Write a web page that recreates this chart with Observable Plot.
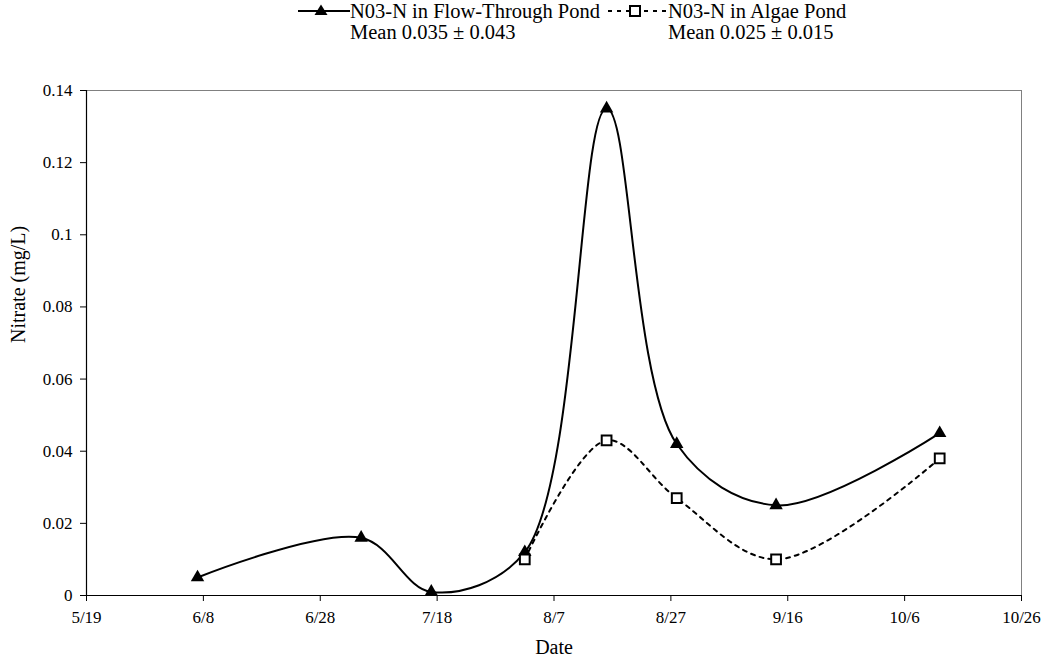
<!DOCTYPE html>
<html>
<head>
<meta charset="utf-8">
<script src="https://cdn.jsdelivr.net/npm/d3@7"></script>
<script src="https://cdn.jsdelivr.net/npm/@observablehq/plot@0.6"></script>
<style>
  html, body { margin: 0; padding: 0; background: #fff; }
  #wrap { position: relative; width: 1047px; height: 671px; font-family: "Liberation Serif", "Times New Roman", serif; color: #000; }
  #legend { position: relative; width: 1047px; height: 50px; font-size: 20.5px; }
  #legend .t { position: absolute; white-space: nowrap; line-height: 21px; }
  #legend svg { position: absolute; }
  #chart { display: block; }
</style>
</head>
<body>
<div id="wrap">
  <div id="legend"></div>
  <div id="chart"></div>
</div>
<script>
// ---- data ----
const flowDates   = ["2005-06-07", "2005-07-05", "2005-07-17", "2005-08-02", "2005-08-16", "2005-08-28", "2005-09-14", "2005-10-12"];
const flowValues  = [0.005, 0.016, 0.001, 0.012, 0.135, 0.042, 0.025, 0.045];
const algaeDates  = ["2005-08-02", "2005-08-16", "2005-08-28", "2005-09-14", "2005-10-12"];
const algaeValues = [0.010, 0.043, 0.027, 0.010, 0.038];
const xTickDates  = ["2005-05-19", "2005-06-08", "2005-06-28", "2005-07-18", "2005-08-07", "2005-08-27", "2005-09-16", "2005-10-06", "2005-10-26"];
const yTicks      = [0, 0.02, 0.04, 0.06, 0.08, 0.1, 0.12, 0.14];
const seriesNames = ["N03-N in Flow-Through Pond", "N03-N in Algae Pond"];
const seriesMeans = ["Mean 0.035 \u00b1 0.043", "Mean 0.025 \u00b1 0.015"];
const xTitle = "Date";
const yTitle = "Nitrate (mg/L)";

const parse = d3.utcParse("%Y-%m-%d");
const flow  = flowDates.map((d, i) => ({date: parse(d), value: flowValues[i]}));
const algae = algaeDates.map((d, i) => ({date: parse(d), value: algaeValues[i]}));
const xTicks = xTickDates.map(parse);
const fmtDate = d3.utcFormat("%-m/%-d");
const fmtY = d => String(+d.toFixed(2));

// ---- legend (HTML, above the SVG) ----
const legend = document.getElementById("legend");
legend.innerHTML = `
  <svg width="52" height="20" style="left:298px;top:1px">
    <line x1="0" y1="10" x2="52" y2="10" stroke="#000" stroke-width="2"/>
    <polygon points="23,3.5 29.5,14 16.5,14" fill="#000"/>
  </svg>
  <div class="t" style="left:350px;top:1px">${seriesNames[0]}</div>
  <div class="t" style="left:350px;top:22px">${seriesMeans[0]}</div>
  <svg width="60" height="20" style="left:608px;top:1px">
    <line x1="0" y1="10" x2="60" y2="10" stroke="#000" stroke-width="2" stroke-dasharray="4,5"/>
    <rect x="22" y="5" width="10" height="10" fill="#fff" stroke="#000" stroke-width="2"/>
  </svg>
  <div class="t" style="left:668px;top:1px">${seriesNames[1]}</div>
  <div class="t" style="left:668px;top:22px">${seriesMeans[1]}</div>
`;

// ---- chart ----
const chart = Plot.plot({
  width: 1047,
  height: 621,
  marginTop: 40,
  marginBottom: 76,
  marginLeft: 86,
  marginRight: 26,
  style: {fontFamily: "'Liberation Serif', 'Times New Roman', serif", fontSize: "17px", color: "#000", background: "#fff", overflow: "visible"},
  x: {type: "utc", domain: [xTicks[0], xTicks[xTicks.length - 1]]},
  y: {domain: [0, 0.14]},
  marks: [
    Plot.frame({stroke: "#808080"}),
    Plot.axisX({ticks: xTicks, tickFormat: fmtDate, tickSize: 6, tickPadding: 9, label: null, fontSize: 17}),
    Plot.axisY({ticks: yTicks, tickFormat: fmtY, tickSize: 6, tickPadding: 8, label: null, fontSize: 17}),
    Plot.ruleY([0], {stroke: "#000", strokeWidth: 1.2}),
    Plot.ruleX([xTicks[0]], {stroke: "#000", strokeWidth: 1.2}),
    Plot.line(flow, {x: "date", y: "value", curve: "catmull-rom", stroke: "#000", strokeWidth: 2}),
    Plot.line(algae, {x: "date", y: "value", curve: "catmull-rom", stroke: "#000", strokeWidth: 2, strokeDasharray: "4,5"}),
    Plot.dot(flow, {x: "date", y: "value", symbol: "triangle", fill: "#000", r: 5}),
    Plot.dot(algae, {x: "date", y: "value", symbol: "square", fill: "#fff", stroke: "#000", strokeWidth: 2, r: 5.5}),
    Plot.text([xTitle], {frameAnchor: "bottom", dy: 58, fontSize: 20, text: d => d}),
    Plot.text([yTitle], {frameAnchor: "left", dx: -68, rotate: -90, fontSize: 20, text: d => d})
  ]
});
document.getElementById("chart").appendChild(chart);
</script>
</body>
</html>
